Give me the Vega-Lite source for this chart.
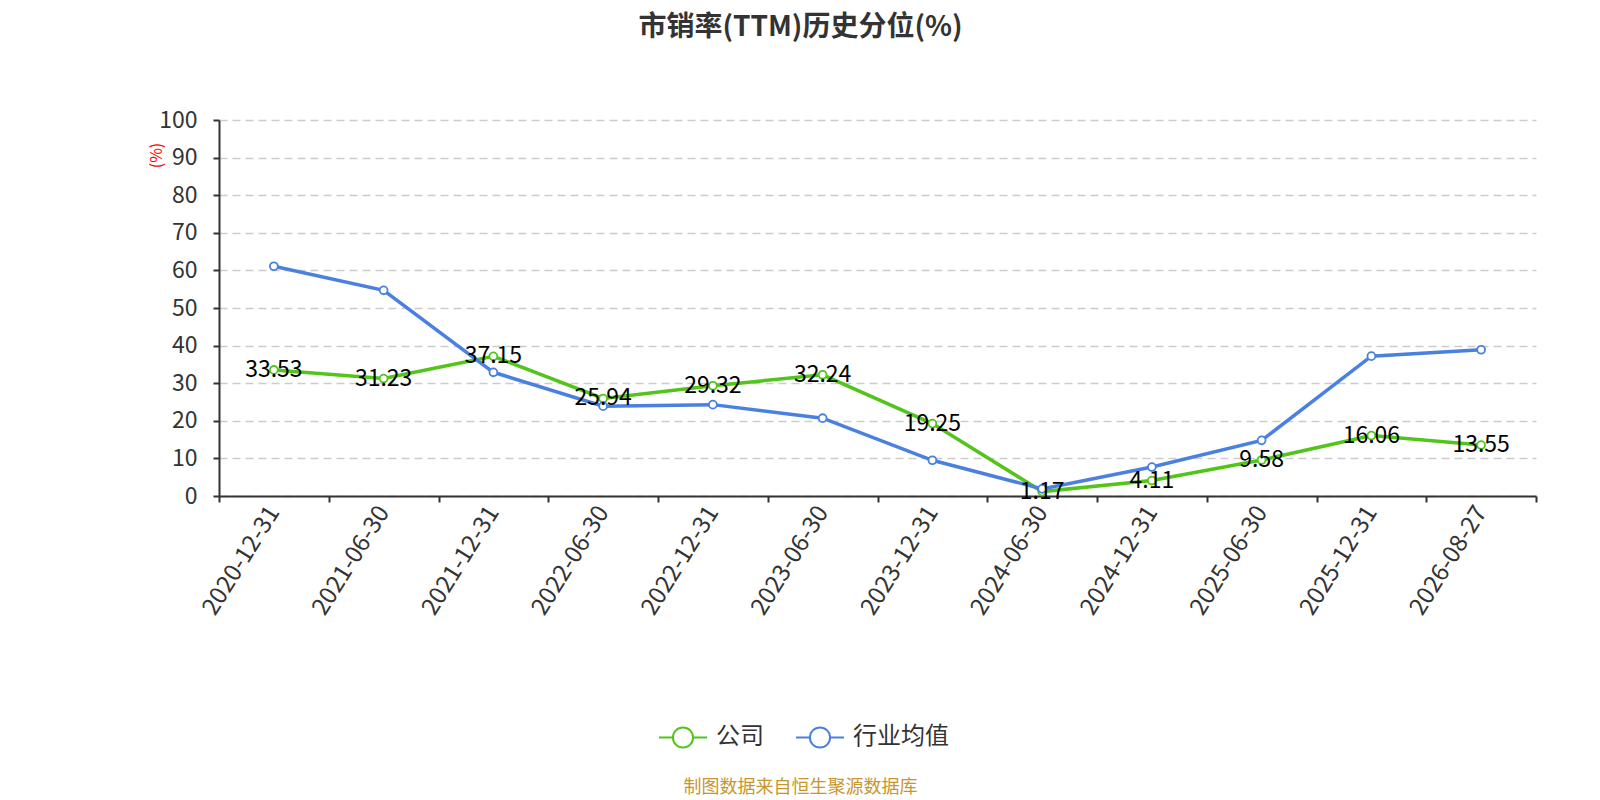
{
  "$schema": "https://vega.github.io/schema/vega-lite/v6.json",
  "width": 1317,
  "height": 376,
  "autosize": {"type": "none"},
  "padding": {"left": 219, "top": 120, "right": 64, "bottom": 304},
  "background": "white",
  "title": {
    "text": "市销率(TTM)历史分位(%)",
    "font": "Noto Sans CJK SC",
    "fontSize": 28,
    "fontWeight": "bold",
    "color": "#333333",
    "anchor": "middle",
    "dx": -77,
    "offset": 67
  },
  "data": {
    "values": [
      {"date": "2020-12-31", "series": "公司", "value": 33.53},
      {"date": "2021-06-30", "series": "公司", "value": 31.23},
      {"date": "2021-12-31", "series": "公司", "value": 37.15},
      {"date": "2022-06-30", "series": "公司", "value": 25.94},
      {"date": "2022-12-31", "series": "公司", "value": 29.32},
      {"date": "2023-06-30", "series": "公司", "value": 32.24},
      {"date": "2023-12-31", "series": "公司", "value": 19.25},
      {"date": "2024-06-30", "series": "公司", "value": 1.17},
      {"date": "2024-12-31", "series": "公司", "value": 4.11},
      {"date": "2025-06-30", "series": "公司", "value": 9.58},
      {"date": "2025-12-31", "series": "公司", "value": 16.06},
      {"date": "2026-08-27", "series": "公司", "value": 13.55},
      {"date": "2020-12-31", "series": "行业均值", "value": 61.1},
      {"date": "2021-06-30", "series": "行业均值", "value": 54.7},
      {"date": "2021-12-31", "series": "行业均值", "value": 32.9},
      {"date": "2022-06-30", "series": "行业均值", "value": 23.9},
      {"date": "2022-12-31", "series": "行业均值", "value": 24.3},
      {"date": "2023-06-30", "series": "行业均值", "value": 20.7},
      {"date": "2023-12-31", "series": "行业均值", "value": 9.5},
      {"date": "2024-06-30", "series": "行业均值", "value": 1.9},
      {"date": "2024-12-31", "series": "行业均值", "value": 7.7},
      {"date": "2025-06-30", "series": "行业均值", "value": 14.8},
      {"date": "2025-12-31", "series": "行业均值", "value": 37.2},
      {"date": "2026-08-27", "series": "行业均值", "value": 38.9}
    ]
  },
  "encoding": {
    "x": {
      "field": "date",
      "type": "ordinal",
      "sort": null,
      "scale": {"type": "band", "paddingInner": 0, "paddingOuter": 0},
      "axis": {
        "tickBand": "extent",
        "domainColor": "#333333",
        "domainWidth": 2,
        "tickColor": "#333333",
        "tickWidth": 2,
        "tickSize": 6,
        "grid": false,
        "labelAngle": -58,
        "labelAlign": "right",
        "labelBaseline": "middle",
        "labelFontSize": 24,
        "labelColor": "#333333",
        "labelPadding": 6,
        "title": "制图数据来自恒生聚源数据库",
        "titleColor": "#c8962e",
        "titleFontSize": 18,
        "titleFontWeight": "normal",
        "titleX": 581,
        "titleY": 291,
        "titleAlign": "center",
        "titleBaseline": "middle"
      }
    },
    "y": {
      "field": "value",
      "type": "quantitative",
      "scale": {"domain": [0, 100]},
      "axis": {
        "values": [0, 10, 20, 30, 40, 50, 60, 70, 80, 90, 100],
        "domainColor": "#333333",
        "domainWidth": 2,
        "tickColor": "#333333",
        "tickWidth": 2,
        "tickSize": 6,
        "gridColor": "#cccccc",
        "gridWidth": 1.5,
        "gridDash": [8, 5],
        "labelFontSize": 23,
        "labelColor": "#333333",
        "labelPadding": 16,
        "title": "(%)",
        "titleColor": "red",
        "titleFontSize": 16,
        "titleFontWeight": "normal",
        "titleX": -63,
        "titleY": 35,
        "titleAlign": "center",
        "titleBaseline": "middle"
      }
    }
  },
  "layer": [
    {
      "mark": {"type": "line", "strokeWidth": 3.5},
      "encoding": {
        "color": {
          "field": "series",
          "type": "nominal",
          "scale": {"domain": ["公司", "行业均值"], "range": ["#52c41a", "#4a80e0"]},
          "legend": {
            "orient": "none",
            "legendX": 439,
            "legendY": 592,
            "direction": "horizontal",
            "title": null,
            "symbolType": "M-1,0L-0.42,0M0.42,0L1,0M-0.42,0A0.42,0.42,0,1,1,0.42,0A0.42,0.42,0,1,1,-0.42,0Z",
            "symbolSize": 2304,
            "symbolStrokeWidth": 2,
            "symbolFillColor": "white",
            "labelFontSize": 24,
            "labelColor": "#333333",
            "labelOffset": 8,
            "columnPadding": 28
          }
        }
      }
    },
    {
      "mark": {"type": "point", "filled": false, "fill": "white", "fillOpacity": 1, "size": 62, "strokeWidth": 1.8, "opacity": 1},
      "encoding": {
        "stroke": {
          "field": "series",
          "type": "nominal",
          "scale": {"domain": ["公司", "行业均值"], "range": ["#52c41a", "#4a80e0"]},
          "legend": null
        }
      }
    },
    {
      "transform": [{"filter": "datum.series === '公司'"}],
      "mark": {"type": "text", "fontSize": 23, "color": "#000000", "align": "center", "baseline": "middle"},
      "encoding": {
        "text": {"field": "value", "type": "quantitative", "format": ".2f"}
      }
    }
  ],
  "config": {
    "font": "Noto Sans CJK SC",
    "view": {"stroke": null}
  }
}
